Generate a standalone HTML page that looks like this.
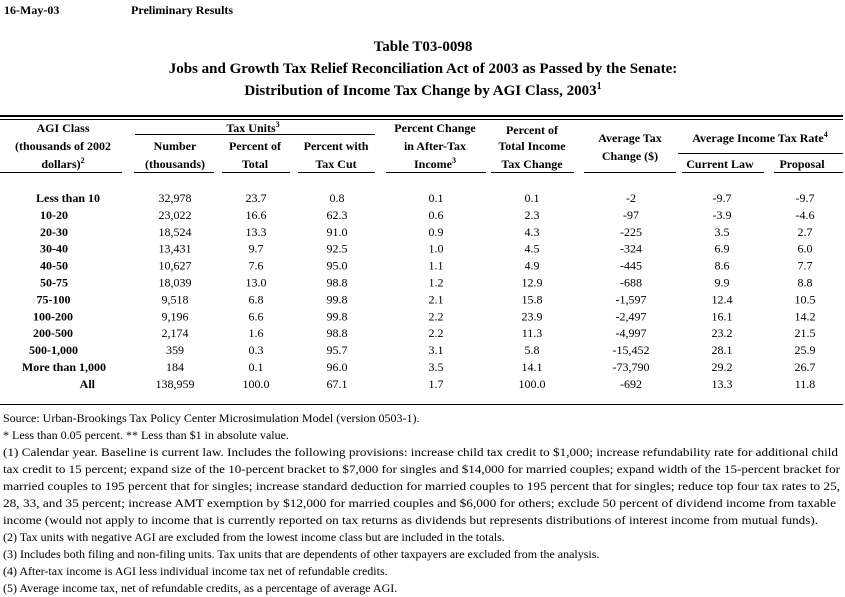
<!DOCTYPE html>
<html><head><meta charset="utf-8">
<style>
html,body{margin:0;padding:0;background:#fff;}
svg{display:block;font-family:"Liberation Serif",serif;}
.b{font-weight:bold;}
</style></head>
<body>
<svg id="tbl" width="845" height="597" viewBox="0 0 845 597">
<text x="4" y="14" class="b" font-size="12">16-May-03</text>
<text x="131" y="14" class="b" font-size="12">Preliminary Results</text>
<g class="b" font-size="15" text-anchor="middle">
<text x="423" y="51">Table T03-0098</text>
<text x="423" y="73">Jobs and Growth Tax Relief Reconciliation Act of 2003 as Passed by the Senate:</text>
<text x="423" y="95">Distribution of Income Tax Change by AGI Class, 2003<tspan font-size="10" dy="-6">1</tspan></text>
</g>
<rect x="0" y="115" width="843" height="2" fill="#000"/>
<rect x="0" y="119" width="843" height="1" fill="#000"/>
<g class="b" font-size="12" text-anchor="middle">
<text x="63" y="132">AGI Class</text>
<text x="63" y="150">(thousands of 2002</text>
<text x="63" y="168">dollars)<tspan font-size="8" dy="-5">2</tspan></text>
<text x="253" y="132">Tax Units<tspan font-size="8" dy="-5">3</tspan></text>
<text x="175" y="150">Number</text><text x="175" y="168">(thousands)</text>
<text x="255" y="150">Percent of</text><text x="255" y="168">Total</text>
<text x="336" y="150">Percent with</text><text x="336" y="168">Tax Cut</text>
<text x="435" y="132">Percent Change</text><text x="435" y="150">in After-Tax</text>
<text x="435" y="168">Income<tspan font-size="8" dy="-5">3</tspan></text>
<text x="532" y="134">Percent of</text><text x="532" y="150">Total Income</text><text x="532" y="168">Tax Change</text>
<text x="630" y="142">Average Tax</text><text x="630" y="160">Change ($)</text>
<text x="760" y="142">Average Income Tax Rate<tspan font-size="8" dy="-5">4</tspan></text>
<text x="720" y="168">Current Law</text><text x="802" y="168">Proposal</text>
</g>
<g fill="#000">
<rect x="135" y="134" width="240" height="1"/>
<rect x="678" y="153" width="165" height="1"/>
<rect x="0" y="172" width="122" height="1"/>
<rect x="134" y="172" width="80" height="1"/>
<rect x="222" y="172" width="68" height="1"/>
<rect x="298" y="172" width="77" height="1"/>
<rect x="386" y="172" width="100" height="1"/>
<rect x="491" y="172" width="83" height="1"/>
<rect x="584" y="172" width="92" height="1"/>
<rect x="682" y="172" width="82" height="1"/>
<rect x="774" y="172" width="69" height="1"/>
</g>
<g id="rows" font-size="12"></g>
<rect x="0" y="404" width="843" height="1" fill="#000"/>
<g font-size="12">
<text x="3" y="422">Source: Urban-Brookings Tax Policy Center Microsimulation Model (version 0503-1).</text>
<text x="3" y="439">* Less than 0.05 percent.  ** Less than $1 in absolute value.</text>
<text x="3" y="456" textLength="835" lengthAdjust="spacingAndGlyphs">(1) Calendar year. Baseline is current law. Includes the following provisions: increase child tax credit to $1,000; increase refundability rate for additional child</text>
<text x="3" y="473" textLength="837" lengthAdjust="spacingAndGlyphs">tax credit to 15 percent; expand size of the 10-percent bracket to $7,000 for singles and $14,000 for married couples; expand width of the 15-percent bracket for</text>
<text x="3" y="490" textLength="837" lengthAdjust="spacingAndGlyphs">married couples to 195 percent that for singles; increase standard deduction for married couples to 195 percent that for singles; reduce top four tax rates to 25,</text>
<text x="3" y="507" textLength="833" lengthAdjust="spacingAndGlyphs">28, 33, and 35 percent; increase AMT exemption by $12,000 for married couples and $6,000 for others; exclude 50 percent of dividend income from taxable</text>
<text x="3" y="524" textLength="815" lengthAdjust="spacingAndGlyphs">income (would not apply to income that is currently reported on tax returns as dividends but represents distributions of interest income from mutual funds).</text>
<text x="3" y="541">(2) Tax units with negative AGI are excluded from the lowest income class but are included in the totals.</text>
<text x="3" y="558">(3) Includes both filing and non-filing units.  Tax units that are dependents of other taxpayers are excluded from the analysis.</text>
<text x="3" y="575">(4) After-tax income is AGI less individual income tax net of refundable credits.</text>
<text x="3" y="592">(5) Average income tax, net of refundable credits, as a percentage of average AGI.</text>
</g>
</svg>
<script>
const agiClasses = ["Less than 10","10-20","20-30","30-40","40-50","50-75","75-100","100-200","200-500","500-1,000","More than 1,000","All"];
const numberThousands = ["32,978","23,022","18,524","13,431","10,627","18,039","9,518","9,196","2,174","359","184","138,959"];
const percentOfTotal = ["23.7","16.6","13.3","9.7","7.6","13.0","6.8","6.6","1.6","0.3","0.1","100.0"];
const percentWithCut = ["0.8","62.3","91.0","92.5","95.0","98.8","99.8","99.8","98.8","95.7","96.0","67.1"];
const pctChangeAfterTax = ["0.1","0.6","0.9","1.0","1.1","1.2","2.1","2.2","2.2","3.1","3.5","1.7"];
const pctTotalTaxChange = ["0.1","2.3","4.3","4.5","4.9","12.9","15.8","23.9","11.3","5.8","14.1","100.0"];
const avgTaxChange = ["-2","-97","-225","-324","-445","-688","-1,597","-2,497","-4,997","-15,452","-73,790","-692"];
const rateCurrentLaw = ["-9.7","-3.9","3.5","6.9","8.6","9.9","12.4","16.1","23.2","28.1","29.2","13.3"];
const rateProposal = ["-9.7","-4.6","2.7","6.0","7.7","8.8","10.5","14.2","21.5","25.9","26.7","11.8"];

const NS = "http://www.w3.org/2000/svg";
const g = document.getElementById("rows");
const colX = [175,256,337,436,532,631,722,805];
const cols = [numberThousands,percentOfTotal,percentWithCut,pctChangeAfterTax,pctTotalTaxChange,avgTaxChange,rateCurrentLaw,rateProposal];
function rowY(i){ return 202 + i*16.9; }
agiClasses.forEach((c,i)=>{
  const row = document.createElementNS(NS,"g");
  
  
  const t = document.createElementNS(NS,"text");
  
  
  t.setAttribute("x", c==="All" ? 95 : (c==="More than 1,000" ? 106 : (c==="Less than 10" ? 100 : 68 + (c.length-5)*2.5)));
  t.setAttribute("y", rowY(i));
  t.setAttribute("text-anchor","end");
  t.setAttribute("font-weight","bold");
  t.textContent = c;
  row.appendChild(t);
  cols.forEach((arr,j)=>{
    const v = document.createElementNS(NS,"text");
    
    
    v.setAttribute("x", colX[j]);
    v.setAttribute("y", rowY(i));
    v.setAttribute("text-anchor","middle");
    v.textContent = arr[i];
    row.appendChild(v);
  });
  g.appendChild(row);
});
</script>
</body></html>
